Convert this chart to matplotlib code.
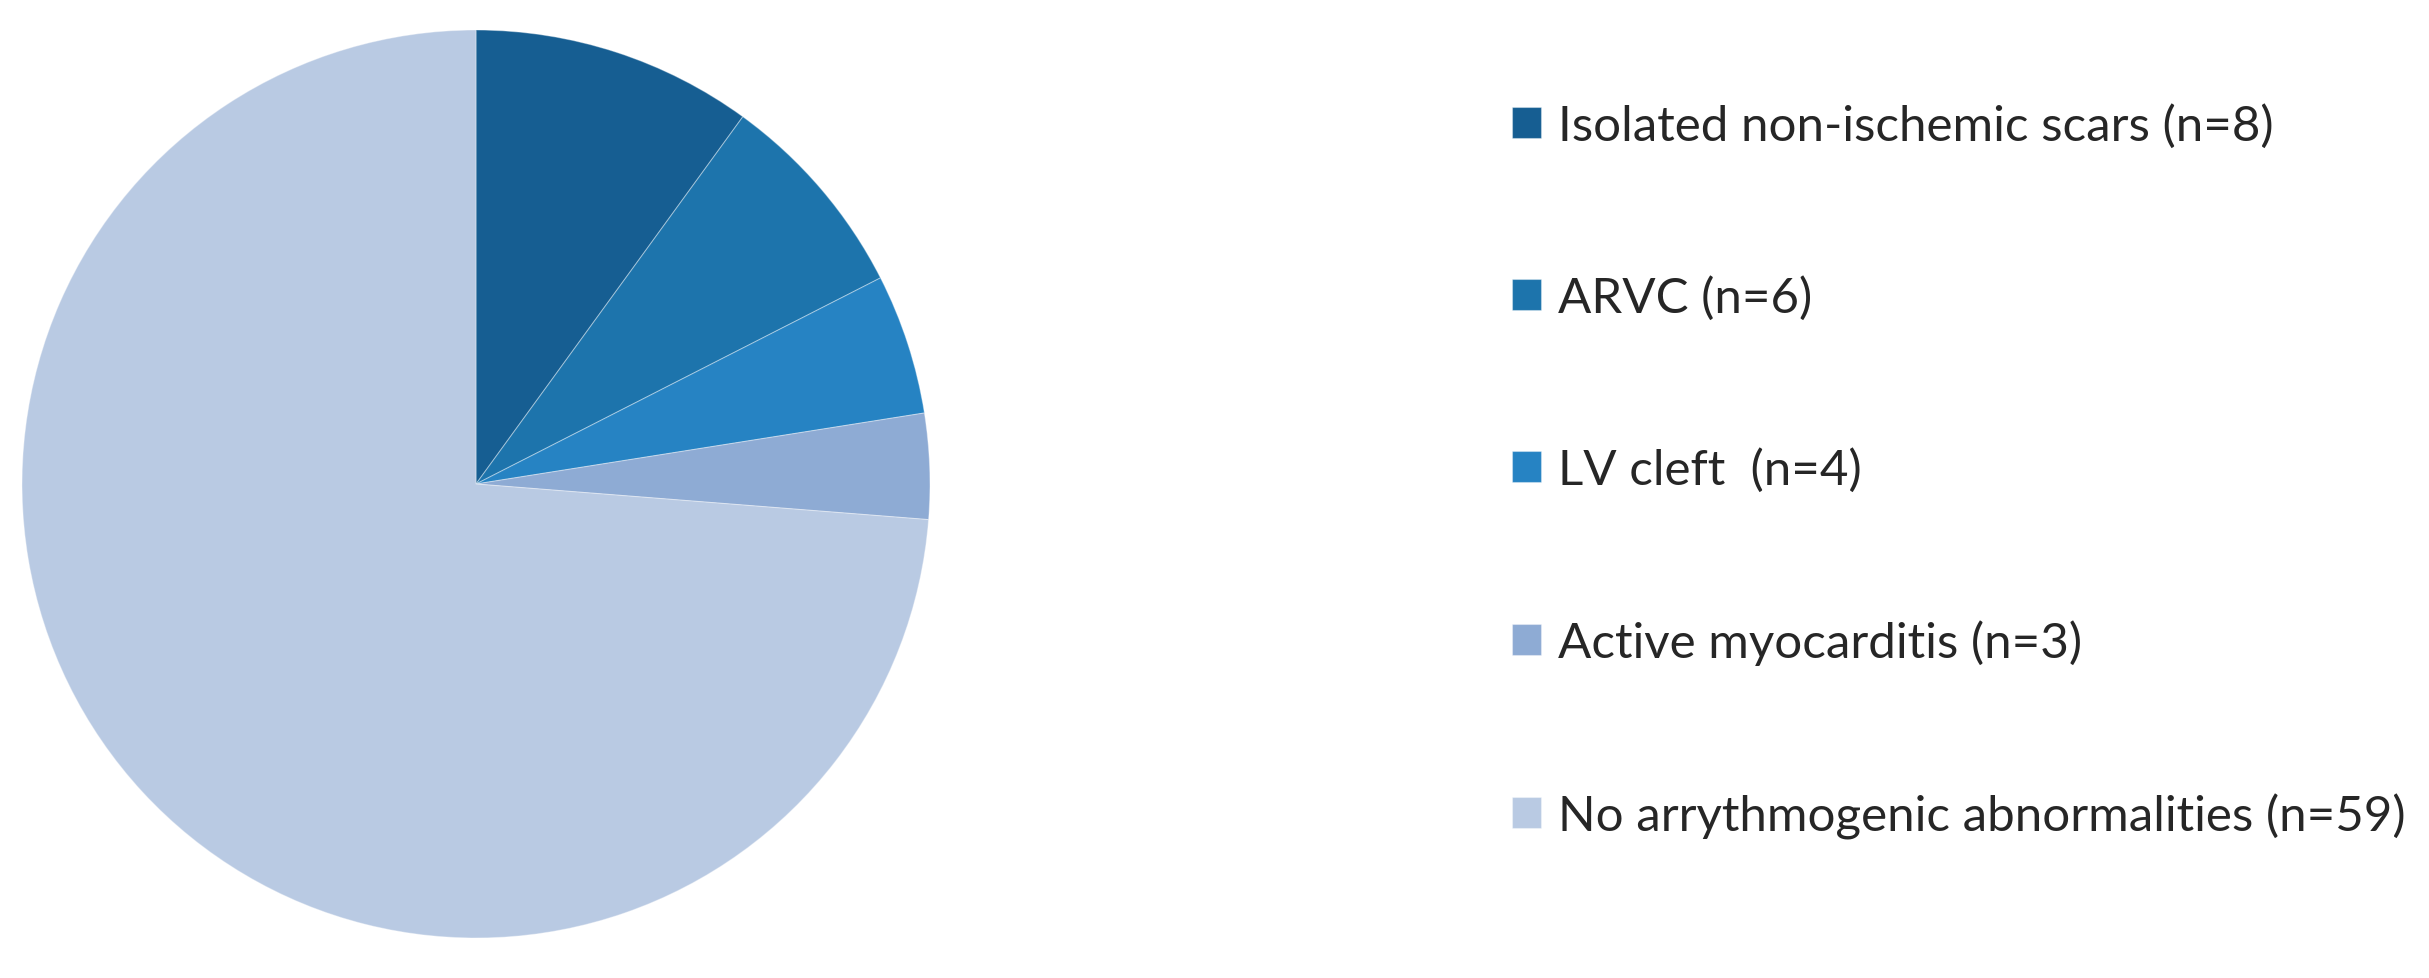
import matplotlib.pyplot as plt

# data
labels = ["Isolated non-ischemic scars (n=8)", "ARVC (n=6)", "LV cleft  (n=4)",
          "Active myocarditis (n=3)", "No arrythmogenic abnormalities (n=59)"]
counts = [8, 6, 4, 3, 59]
colors = ["#165e92", "#1d74ac", "#2683c3", "#8eabd4", "#b9cae3"]

W, H = 2429, 979
fig = plt.figure(figsize=(W / 100, H / 100), dpi=100)

# pie axes: center ~ (476, 485) px, radius ~454 px
cx, cy, r = 476, 485, 454
ax = fig.add_axes([(cx - r) / W, (H - cy - r) / H, 2 * r / W, 2 * r / H])
wedges, _ = ax.pie(counts, colors=colors, startangle=90, counterclock=False,
                   radius=1, wedgeprops=dict(linewidth=0.8, edgecolor=(1, 1, 1, 0.35)))
ax.set_xlim(-1, 1)
ax.set_ylim(-1, 1)
ax.set_aspect("equal")
ax.axis("off")

fs = 35.5
leg = fig.legend(wedges, labels, loc="center left", bbox_to_anchor=(1487 / W, 1 - 472 / H),
                 frameon=False, prop={"family": "Lato", "size": fs},
                 handlelength=0.59, handleheight=0.59, handletextpad=0.35,
                 labelspacing=2.58, borderpad=0)
for t in leg.get_texts():
    t.set_color("#262626")

fig.savefig("out.png", dpi=100)
